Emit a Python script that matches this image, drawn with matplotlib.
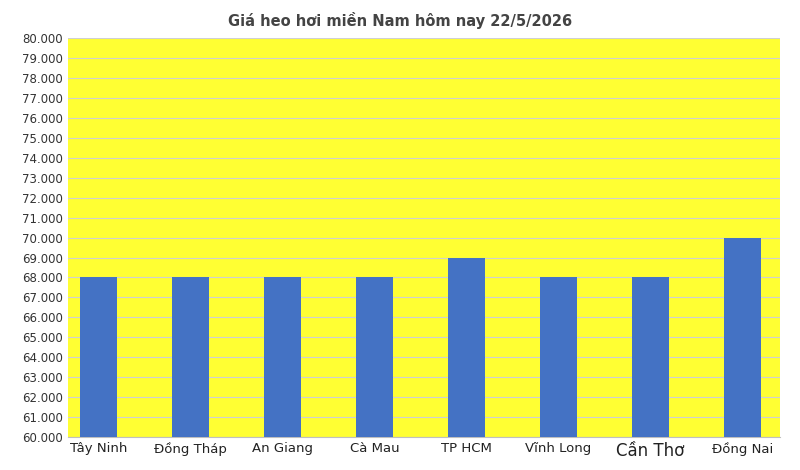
import matplotlib.pyplot as plt
from matplotlib.ticker import FuncFormatter, MultipleLocator

# dữ liệu
provinces = ['Tây Ninh', 'Đồng Tháp', 'An Giang', 'Cà Mau', 'TP HCM', 'Vĩnh Long', 'Cần Thơ', 'Đồng Nai']
prices = [68000, 68000, 68000, 68000, 69000, 68000, 68000, 70000]

fig = plt.figure(figsize=(8, 4.7), dpi=100)
ax = fig.add_axes([0.085, 0.07, 0.89, 0.849])
ax.set_facecolor('#FFFF33')

x = range(len(provinces))
ax.bar(x, prices, width=0.40, color='#4472C4', zorder=3)

ax.set_ylim(60000, 80000)
ax.set_xlim(-0.33, len(provinces) - 0.59)
ax.yaxis.set_major_locator(MultipleLocator(1000))
ax.yaxis.set_major_formatter(FuncFormatter(lambda v, p: f'{int(v):,}'.replace(',', '.')))
ax.grid(axis='y', color='#D0D0D0', linewidth=0.8, zorder=0)

ax.set_xticks(list(x))
ax.set_xticklabels(provinces, fontsize=9.5)
for lbl in ax.get_xticklabels():
    if lbl.get_text() == 'Cần Thơ':
        lbl.set_fontsize(12)
ax.tick_params(axis='y', labelsize=8.5, length=0, colors='#333333')
ax.tick_params(axis='x', length=0, colors='#222222')
for s in ['top', 'right', 'left']:
    ax.spines[s].set_visible(False)
ax.spines['bottom'].set_color('#BFBFBF')

fig.suptitle('Giá heo hơi miền Nam hôm nay 22/5/2026', y=0.975, fontsize=10.5,
             fontweight='bold', color='#444444')

plt.savefig('out.png', dpi=100)
